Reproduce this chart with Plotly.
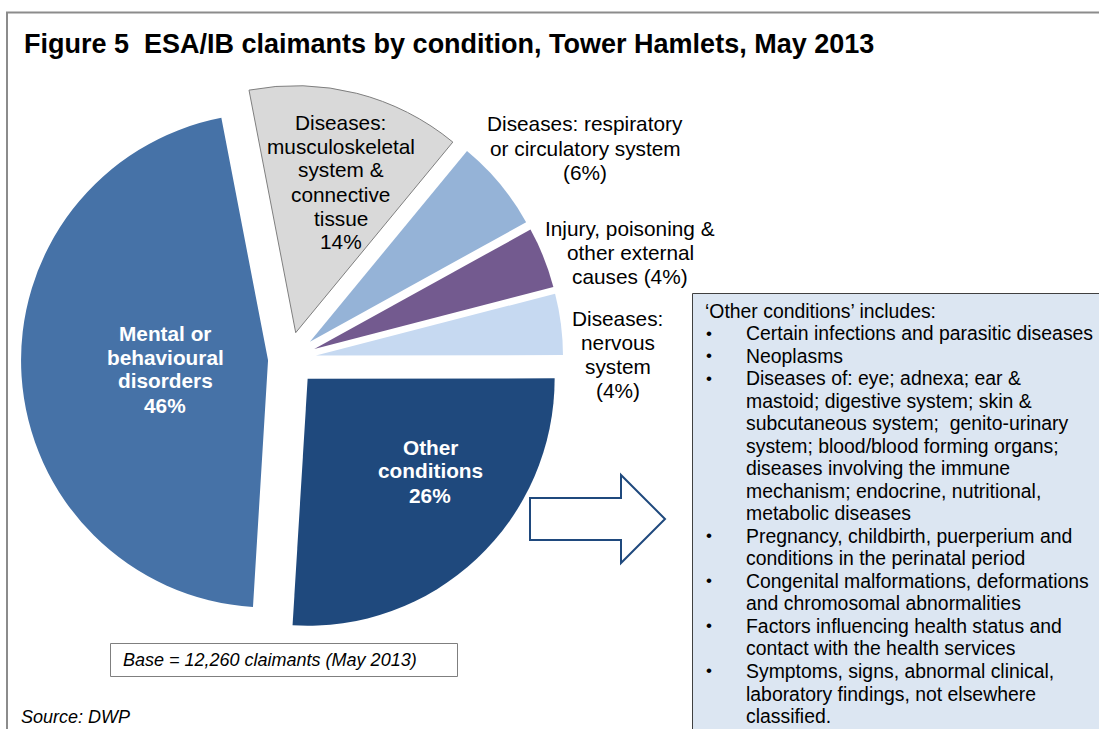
import plotly.graph_objects as go

W, H = 1099, 729

# ---- data ----
categories = ["Diseases: musculoskeletal system & connective tissue",
              "Diseases: respiratory or circulatory system",
              "Injury, poisoning & other external causes",
              "Diseases: nervous system",
              "Other conditions",
              "Mental or behavioural disorders"]
shares = [14, 6, 4, 4, 26, 46]
slice_colors = ["#D9D9D9", "#95B3D7", "#735A8F", "#C6D9F1", "#1F497D", "#4672A7"]

label_lines = [["Diseases:", "musculoskeletal", "system &", "connective", "tissue", "{}%"],
               ["Diseases: respiratory", "or circulatory system", "({}%)"],
               ["Injury, poisoning &", "other external", "causes ({}%)"],
               ["Diseases:", "nervous", "system", "({}%)"],
               ["Other", "conditions", "{}%"],
               ["Mental or", "behavioural", "disorders", "{}%"]]

title_text = "Figure 5 \u00a0ESA/IB claimants by condition, Tower Hamlets, May 2013"
base_text = "Base = 12,260 claimants (May 2013)"
source_text = "Source: DWP"

note_header = "\u2018Other conditions\u2019 includes:"
note_items = [["Certain infections and parasitic diseases"],
              ["Neoplasms"],
              ["Diseases of: eye; adnexa; ear &",
               "mastoid; digestive system; skin &",
               "subcutaneous system; \u00a0genito-urinary",
               "system; blood/blood forming organs;",
               "diseases involving the immune",
               "mechanism; endocrine, nutritional,",
               "metabolic diseases"],
              ["Pregnancy, childbirth, puerperium and",
               "conditions in the perinatal period"],
              ["Congenital malformations, deformations",
               "and chromosomal abnormalities"],
              ["Factors influencing health status and",
               "contact with the health services"],
              ["Symptoms, signs, abnormal clinical,",
               "laboratory findings, not elsewhere",
               "classified."]]

# ---- styling ----
FONT = "Liberation Sans, Arial, sans-serif"
slice_pull = [0.11, 0.11, 0.11, 0.11, 0.11, 0.085]
line_colors = ["#7F7F7F", "white", "white", "white", "white", "white"]
line_widths = [1, 0, 0, 0, 0, 0]
# label anchor (x centre, y of first line), text colour, bold
label_pos = [(340.5, 122), (585, 124), (630, 228), (617.5, 318), (430, 447), (165, 333)]
label_color = ["black", "black", "black", "black", "white", "white"]
label_bold = [False, False, False, False, True, True]


def px(x):
    return x / W


def py(y):
    return 1 - y / H


def text_ann(x, y, text, size, color="black", anchor="center", bold=False, italic=False):
    if bold:
        text = "<b>" + text + "</b>"
    if italic:
        text = "<i>" + text + "</i>"
    return dict(x=px(x), y=py(y), xref="paper", yref="paper", text=text,
                showarrow=False, xanchor=anchor, yanchor="middle",
                font=dict(family=FONT, size=size, color=color))


# pie centre (289, 359), radius ~247 px
half = 247 * (1 + max(slice_pull))
cx, cy = 289, 359

fig = go.Figure(go.Pie(
    labels=categories, values=shares, sort=False,
    direction="clockwise", rotation=-10.9, pull=slice_pull,
    marker=dict(colors=slice_colors, line=dict(color=line_colors, width=line_widths)),
    textinfo="none", hoverinfo="label+percent", showlegend=False,
    domain=dict(x=[px(cx - half), px(cx + half)], y=[py(cy + half), py(cy - half)]),
))

annotations = [text_ann(22, 44, title_text, 27, anchor="left", bold=True)]

for lines, share, (lx, ly), col, bold in zip(label_lines, shares, label_pos,
                                            label_color, label_bold):
    for i, line in enumerate(lines):
        annotations.append(text_ann(lx, ly + 24 * i, line.format(share), 20.8,
                                    color=col, bold=bold))

# note box text
row = 0
note_y0, note_gap = 310.5, 22.53
annotations.append(text_ann(703, note_y0, note_header, 19.4, anchor="left"))
for item in note_items:
    for j, line in enumerate(item):
        row += 1
        y = note_y0 + note_gap * row
        if j == 0:
            annotations.append(text_ann(709, y, "\u2022", 17))
        annotations.append(text_ann(744, y, line, 19.4, anchor="left"))

annotations.append(text_ann(121, 660, base_text, 18, anchor="left", italic=True))
annotations.append(text_ann(19, 717, source_text, 18, anchor="left", italic=True))

arrow = [(530, 498), (621, 498), (621, 475), (665, 519), (621, 563), (621, 540), (530, 540)]
arrow_path = "M " + " L ".join(f"{px(x)} {py(y)}" for x, y in arrow) + " Z"

shapes = [
    # outer frame
    dict(type="line", xref="paper", yref="paper", x0=px(6), x1=1.0, y0=py(12.5), y1=py(12.5),
         line=dict(color="#8C8C8C", width=2)),
    dict(type="line", xref="paper", yref="paper", x0=px(7), x1=px(7), y0=py(12.5), y1=0,
         line=dict(color="#8C8C8C", width=2)),
    # 'other conditions' note box
    dict(type="rect", xref="paper", yref="paper", x0=px(692.5), x1=px(1110), y0=py(293.5), y1=py(740),
         fillcolor="#DCE6F2", line=dict(color="#404040", width=1), layer="below"),
    # base box
    dict(type="rect", xref="paper", yref="paper", x0=px(110.5), x1=px(457.5), y0=py(643.5), y1=py(676.5),
         fillcolor="white", line=dict(color="#7F7F7F", width=1)),
    # arrow
    dict(type="path", xref="paper", yref="paper", path=arrow_path,
         fillcolor="white", line=dict(color="#1F497D", width=2)),
]

fig.update_layout(width=W, height=H, margin=dict(l=0, r=0, t=0, b=0),
                  paper_bgcolor="white", plot_bgcolor="white",
                  annotations=annotations, shapes=shapes)

fig.write_html("out.html", config={"displayModeBar": False},
               post_script="document.body.style.margin='0';")
